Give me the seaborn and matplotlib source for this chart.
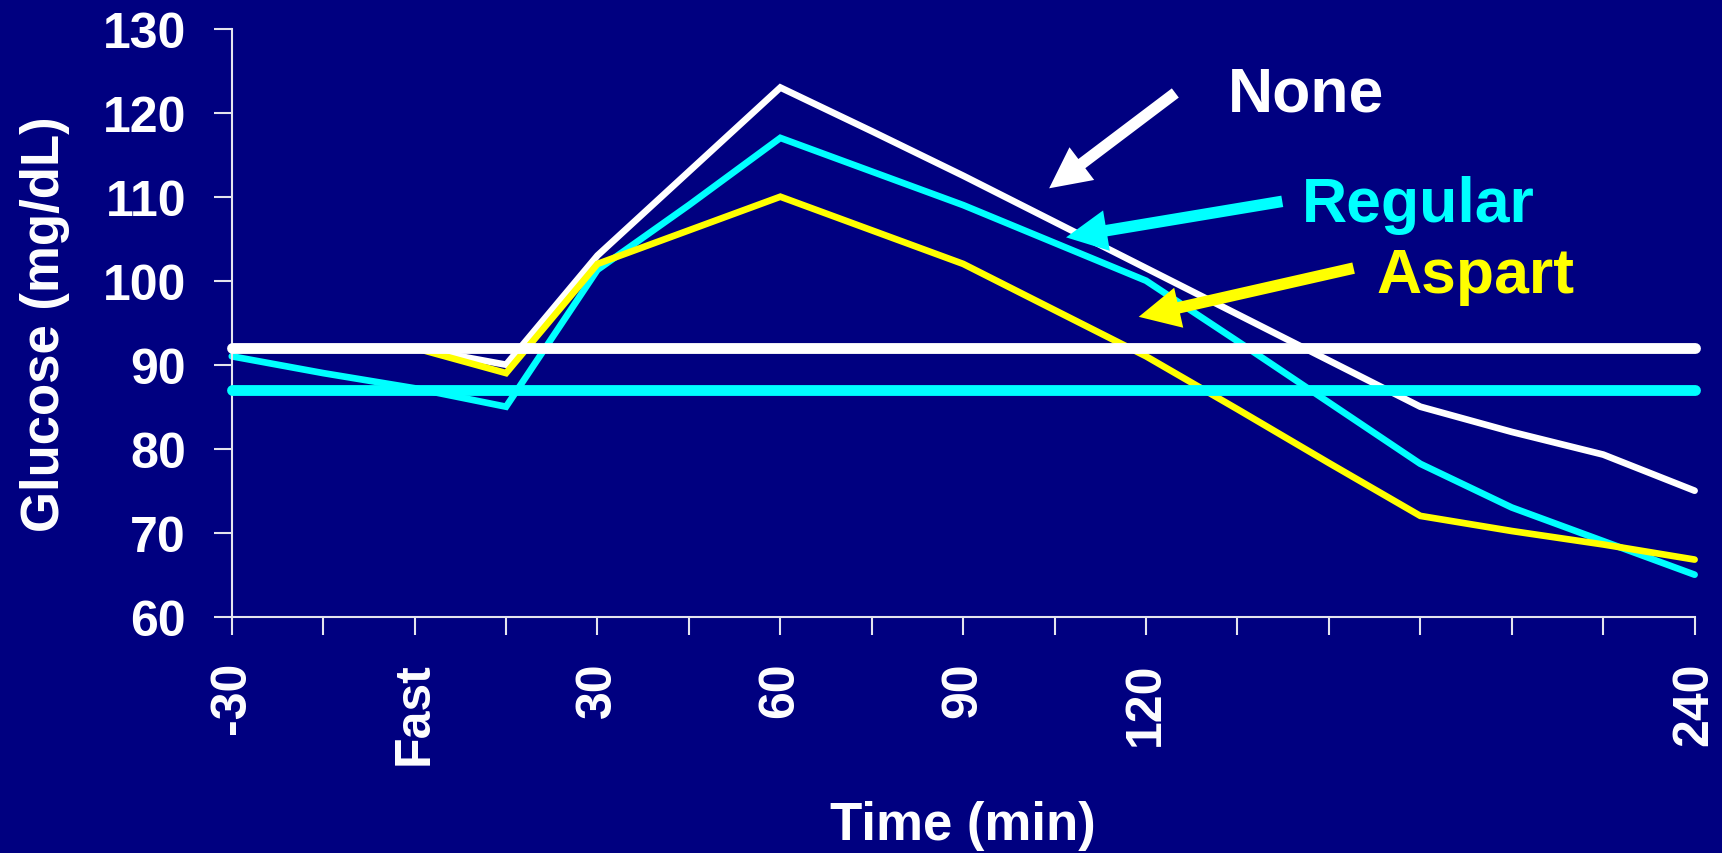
import numpy as np
import pandas as pd
import matplotlib
matplotlib.use("Agg")
import matplotlib.pyplot as plt
import seaborn as sns

# ---- data -------------------------------------------------------------
time_labels = ["-30", "", "Fast", "", "30", "", "60", "", "90", "",
               "120", "", "", "", "", "", "240"]
none_glucose = [92, 92, 92, 90, 103, 113, 123, 117.8, 112.5, 107,
                101.5, 96, 90.5, 85, 82, 79.3, 75]
regular_glucose = [91, 89, 87.2, 85, 101.3, 109, 117, 113, 109, 104.5,
                   100, 92.8, 85.5, 78.2, 73, 69, 65]
aspart_glucose = [92, 92, 92, 89, 102, 106, 110, 106, 102, 96.5,
                  91, 84.7, 78.3, 72, 70.2, 68.6, 66.8]
series_names = ["None", "Regular", "Aspart"]
fasting_names = ["None", "Regular"]
fasting_glucose = [92, 87]
y_ticks = [60, 70, 80, 90, 100, 110, 120, 130]

# ---- style ------------------------------------------------------------
NAVY = "#000080"
AXIS_COLOR = "#E4E4EE"
colors = {"None": "#FFFFFF", "Regular": "#00FFFF", "Aspart": "#FFFF00"}

sns.set_style("ticks", rc={"axes.facecolor": NAVY, "figure.facecolor": NAVY})
plt.rcParams["font.family"] = ["Liberation Sans", "DejaVu Sans"]
plt.rcParams["font.weight"] = "bold"

fig = plt.figure(figsize=(17.22, 8.54), dpi=100, facecolor=NAVY)
ax = fig.add_axes([0.1346, 0.2767, 0.8495, 0.6885])
ax.set_facecolor(NAVY)

pos = np.arange(len(time_labels))
df = pd.DataFrame({
    "pos": np.tile(pos, len(series_names)),
    "glucose": none_glucose + regular_glucose + aspart_glucose,
    "insulin": np.repeat(series_names, len(pos)),
})

sns.lineplot(data=df, x="pos", y="glucose", hue="insulin",
             hue_order=["Regular", "None", "Aspart"], palette=colors,
             linewidth=4.8, solid_capstyle="round", solid_joinstyle="miter",
             errorbar=None, legend=False, ax=ax, zorder=2, clip_on=False)

# fasting reference levels
for name, val in zip(fasting_names, fasting_glucose):
    ax.axhline(val, color=colors[name], linewidth=7.8,
               solid_capstyle="round", zorder=3, clip_on=False)

# ---- axes -------------------------------------------------------------
ax.set_xlim(0, len(time_labels) - 1)
ax.set_ylim(y_ticks[0], y_ticks[-1])
ax.set_xticks(pos)
ax.set_xticklabels(time_labels, rotation=90)
ax.set_yticks(y_ticks)
ax.set_yticklabels([str(v) for v in y_ticks])

for side in ("top", "right"):
    ax.spines[side].set_visible(False)
for side in ("left", "bottom"):
    ax.spines[side].set_color(AXIS_COLOR)
    ax.spines[side].set_linewidth(1.5)

ax.tick_params(axis="both", direction="out", length=13, width=1.5,
               color=AXIS_COLOR, labelcolor="white", labelsize=36)
ax.tick_params(axis="x", pad=19)
ax.tick_params(axis="y", pad=20)
for lbl in ax.get_xticklabels() + ax.get_yticklabels():
    lbl.set_fontweight("bold")

ax.set_xlabel("Time (min)", color="white", fontsize=38, fontweight="bold",
              va="top")
ax.xaxis.set_label_coords(0.5, -0.312)
ax.set_ylabel("Glucose (mg/dL)", color="white", fontsize=38,
              fontweight="bold", va="center")
ax.yaxis.set_label_coords(-0.128, 0.5)

# ---- series labels with arrows -----------------------------------------
labels = [
    ("None", (10.90, 120.24), (10.32, 122.35), (8.94, 111.0)),
    ("Regular", (11.70, 107.13), (11.49, 109.45), (9.125, 105.16)),
    ("Aspart", (12.52, 98.64), (12.27, 101.5), (9.92, 95.7)),
]
for name, text_xy, tail, tip in labels:
    ax.text(*text_xy, name, color=colors[name], fontsize=45,
            fontweight="bold", ha="left", va="baseline", zorder=5)
    ax.annotate("", xy=tip, xytext=tail, zorder=4,
                arrowprops=dict(
                    arrowstyle="simple,head_length=2.95,head_width=2.95,"
                               "tail_width=0.83",
                    color=colors[name], shrinkA=0, shrinkB=0,
                    mutation_scale=10, linewidth=0))

fig.savefig("out.png", dpi=100, facecolor=NAVY)
